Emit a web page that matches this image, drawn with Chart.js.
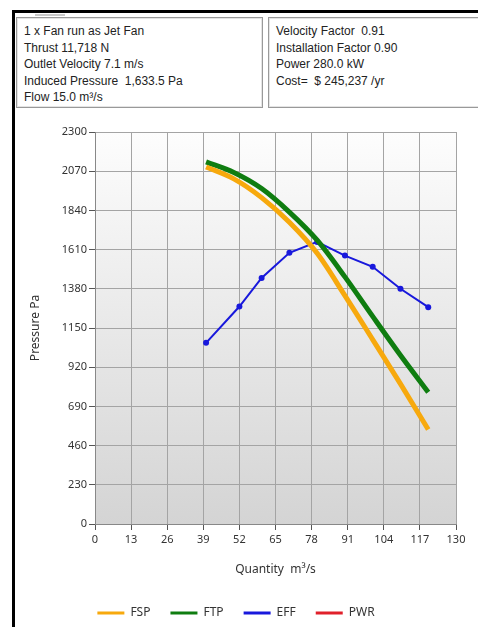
<!DOCTYPE html>
<html lang="en">
<head>
    <meta charset="UTF-8">
    <title>Fan Curve</title>
    <script src="https://cdn.jsdelivr.net/npm/chart.js"></script>
    <style>
        html, body { margin: 0; padding: 0; background: #fff; }
        body { width: 478px; height: 627px; position: relative; overflow: hidden; font-family: "Liberation Sans", Arial, sans-serif; }
        .frame-top { position: absolute; left: 12px; top: 10px; width: 466px; height: 3px; background: #000; }
        .frame-left { position: absolute; left: 12px; top: 10px; width: 3px; height: 617px; background: #000; }
        .tab { position: absolute; left: 35px; top: 14px; width: 30px; height: 2px; background: #c8c8c8; }
        .info-box { position: absolute; top: 17px; height: 91px; border: 1px solid #999; box-shadow: inset 0 0 0 1px #e4e4e4; box-sizing: border-box; padding: 5px 0 0 7px; font-size: 12px; line-height: 16.6px; color: #222; }
        #boxLeft { left: 16px; width: 247px; }
        #boxRight { left: 268px; width: 216px; }
        .chart-wrap { position: absolute; left: 16px; top: 112px; width: 462px; height: 515px; }
    </style>
</head>
<body>
    <div class="frame-top"></div>
    <div class="frame-left"></div>
    <div class="tab"></div>
    <div class="info-box" id="boxLeft">
        1 x Fan run as Jet Fan<br>
        Thrust 11,718 N<br>
        Outlet Velocity 7.1 m/s<br>
        Induced Pressure&nbsp; 1,633.5 Pa<br>
        Flow 15.0 m³/s
    </div>
    <div class="info-box" id="boxRight">
        Velocity Factor&nbsp; 0.91<br>
        Installation Factor 0.90<br>
        Power 280.0 kW<br>
        Cost=&nbsp; $ 245,237 /yr
    </div>
    <div class="chart-wrap">
        <canvas id="fanChart"></canvas>
    </div>

    <script>
        // curve data
        const quantity = [40, 50, 60, 70, 80, 90, 100, 110, 120];
        const fspValues = [2095, 2025, 1915, 1770, 1588, 1340, 1082, 822, 554];
        const ftpValues = [2125, 2062, 1968, 1830, 1665, 1450, 1218, 990, 773];
        const effQuantity = [40, 52, 60, 70, 80, 90, 100, 110, 120];
        const effValues = [1063, 1276, 1444, 1591, 1655, 1575, 1509, 1380, 1272];
        const xTicks = [0, 13, 26, 39, 52, 65, 78, 91, 104, 117, 130];
        const yTicks = [0, 230, 460, 690, 920, 1150, 1380, 1610, 1840, 2070, 2300];

        const tickFont = { family: '"Noto Sans", "Open Sans", sans-serif', size: 11 };
        const titleFont = { family: '"Noto Sans", "Open Sans", sans-serif', size: 12 };

        function toPoints(xs, ys) {
            return xs.map((x, i) => ({ x: x, y: ys[i] }));
        }

        // grey gradient behind the plot area
        const plotBackground = {
            id: 'plotBackground',
            beforeDraw(chart) {
                const { ctx, chartArea: a } = chart;
                const g = ctx.createLinearGradient(0, a.top, 0, a.bottom);
                g.addColorStop(0, '#fdfdfd');
                g.addColorStop(1, '#d4d4d4');
                ctx.save();
                ctx.fillStyle = g;
                ctx.fillRect(a.left, a.top, a.right - a.left, a.bottom - a.top);
                ctx.restore();
            }
        };

        // keep the legend row wide-spaced but short
        const legendHeight = {
            id: 'legendHeight',
            afterInit(chart) {
                const legend = chart.legend;
                if (!legend || legend._patched) return;
                const fit = legend.fit;
                legend.fit = function () {
                    fit.call(this);
                    this.height = 40;
                };
                legend._patched = true;
            }
        };

        const ctx = document.getElementById('fanChart').getContext('2d');
        new Chart(ctx, {
            type: 'line',
            data: {
                datasets: [
                    {
                        label: 'FSP',
                        data: toPoints(quantity, fspValues),
                        borderColor: '#f7a90d',
                        backgroundColor: '#f7a90d',
                        borderWidth: 5,
                        pointRadius: 0,
                        cubicInterpolationMode: 'monotone'
                    },
                    {
                        label: 'FTP',
                        data: toPoints(quantity, ftpValues),
                        borderColor: '#0f7d10',
                        backgroundColor: '#0f7d10',
                        borderWidth: 5,
                        pointRadius: 0,
                        cubicInterpolationMode: 'monotone'
                    },
                    {
                        label: 'EFF',
                        data: toPoints(effQuantity, effValues),
                        borderColor: '#1818dc',
                        backgroundColor: '#1818dc',
                        borderWidth: 2,
                        pointRadius: 3,
                        pointBackgroundColor: '#1818dc',
                        pointBorderWidth: 0,
                        tension: 0
                    },
                    {
                        label: 'PWR',
                        data: [],
                        borderColor: '#e0202a',
                        backgroundColor: '#e0202a',
                        borderWidth: 2
                    }
                ]
            },
            options: {
                responsive: true,
                maintainAspectRatio: false,
                animation: false,
                layout: { padding: { left: 0, right: 22, top: 20, bottom: 0 } },
                plugins: {
                    tooltip: { enabled: false },
                    legend: {
                        position: 'bottom',
                        labels: {
                            boxWidth: 27,
                            boxHeight: 3,
                            padding: 20,
                            color: '#333',
                            font: titleFont,
                            generateLabels: chart => Chart.defaults.plugins.legend.labels.generateLabels(chart)
                                .map(l => Object.assign(l, { lineWidth: 0 }))
                        }
                    }
                },
                scales: {
                    x: {
                        type: 'linear',
                        min: 0,
                        max: 130,
                        afterBuildTicks: scale => { scale.ticks = xTicks.map(v => ({ value: v })); },
                        afterFit: scale => { scale.height = 63; },
                        ticks: { color: '#333', font: tickFont, padding: 3, maxRotation: 0, callback: v => String(v) },
                        grid: { color: '#a4a4a4', tickColor: '#555', tickLength: 6 },
                        border: { color: '#888' },
                        title: { display: true, text: 'Quantity  m³/s', color: '#333', font: titleFont, padding: { top: 0, bottom: 10 } }
                    },
                    y: {
                        min: 0,
                        max: 2300,
                        afterBuildTicks: scale => { scale.ticks = yTicks.map(v => ({ value: v })); },
                        afterFit: scale => { scale.width = 79; },
                        ticks: { color: '#333', font: tickFont, padding: 2, callback: v => String(v) },
                        grid: { color: '#a4a4a4', tickColor: '#555', tickLength: 6 },
                        border: { color: '#888' },
                        title: { display: true, text: 'Pressure Pa', color: '#333', font: titleFont, padding: { top: 12, bottom: 0 } }
                    }
                }
            },
            plugins: [plotBackground, legendHeight]
        });
    </script>
</body>
</html>
